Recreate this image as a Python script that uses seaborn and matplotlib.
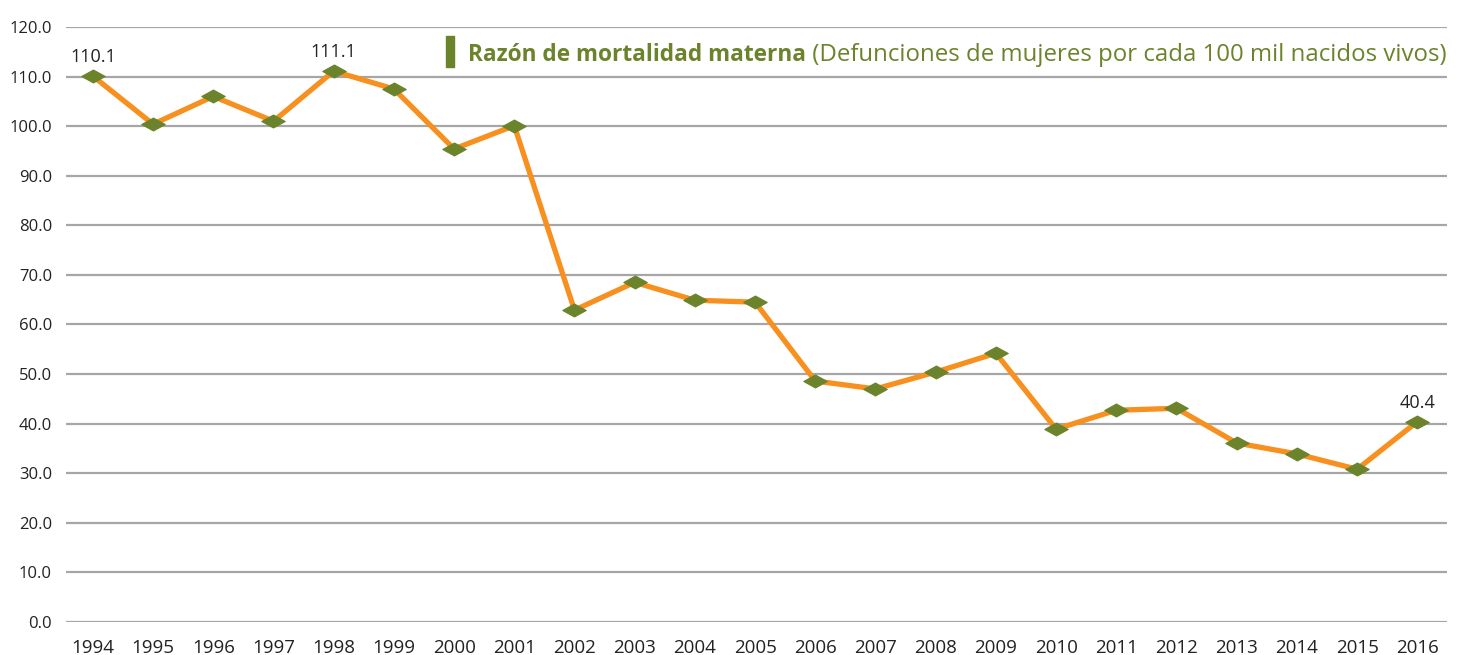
import matplotlib
matplotlib.use("Agg")
import matplotlib.pyplot as plt
import seaborn as sns
import pandas as pd
from matplotlib.patches import Rectangle

years = [str(y) for y in range(1994, 2017)]
ratio = [110.1, 100.4, 106.0, 101.0, 111.1, 107.5, 95.4, 100.1, 62.9, 68.5, 64.9,
         64.5, 48.6, 47.0, 50.4, 54.2, 38.9, 42.7, 43.1, 36.1, 33.9, 30.8, 40.4]
labeled_years = ["1994", "1998", "2016"]
yticks = [0, 10, 20, 30, 40, 50, 60, 70, 80, 90, 100, 110, 120]
title_bold = "Razón de mortalidad materna"
title_rest = " (Defunciones de mujeres por cada 100 mil nacidos vivos)"

sns.set_style("white")
plt.rcParams["font.family"] = ["Open Sans", "DejaVu Sans"]

df = pd.DataFrame({"year": years, "ratio": ratio})

fig = plt.figure(figsize=(14.62, 6.55), dpi=100)
ax = fig.add_axes([0.045, 0.0504, 0.945, 0.9084])

orange = "#F7901E"
green = "#6B832B"
diamond = [(-1, 0), (0, 0.55), (1, 0), (0, -0.55), (-1, 0)]

sns.lineplot(data=df, x="year", y="ratio", ax=ax, color=orange, linewidth=3.8,
             marker=diamond, markersize=17, markerfacecolor=green,
             markeredgecolor=green, sort=False, zorder=3)

ax.set_ylim(0, 120)
ax.set_xlim(-0.45, 22.5)
ax.set_yticks(yticks)
ax.set_yticklabels([f"{v:.1f}" for v in yticks])
ax.yaxis.grid(True, color="#A6A6A6", linewidth=1.6)
ax.xaxis.grid(False)
for s in ax.spines.values():
    s.set_visible(False)
ax.tick_params(axis="both", length=0, colors="#222222")
ax.tick_params(axis="y", pad=10, labelsize=12)
ax.tick_params(axis="x", pad=12, labelsize=13.5)
ax.set_xlabel("")
ax.set_ylabel("")

for yr, val in zip(years, ratio):
    if yr in labeled_years:
        ax.annotate(f"{val:.1f}", (years.index(yr), val), xytext=(0, 7),
                    textcoords="offset points", ha="center", va="bottom",
                    fontsize=13, color="#222222")

# legend-like title
title_y = 0.953
t_rest = ax.text(0.9995, title_y, title_rest, transform=ax.transAxes, ha="right",
                 va="center", fontsize=17.3, color=green)
fig.canvas.draw()
bb = t_rest.get_window_extent().transformed(ax.transAxes.inverted())
t_bold = ax.text(bb.x0, title_y, title_bold, transform=ax.transAxes, ha="right",
                 va="center", fontsize=16.3, color=green, fontweight="bold")
fig.canvas.draw()
bb2 = t_bold.get_window_extent().transformed(ax.transAxes.inverted())
ax.add_patch(Rectangle((bb2.x0 - 0.016, 0.933), 0.0055, 0.052,
                       transform=ax.transAxes, color=green, clip_on=False))

fig.savefig("out.png", dpi=100)
